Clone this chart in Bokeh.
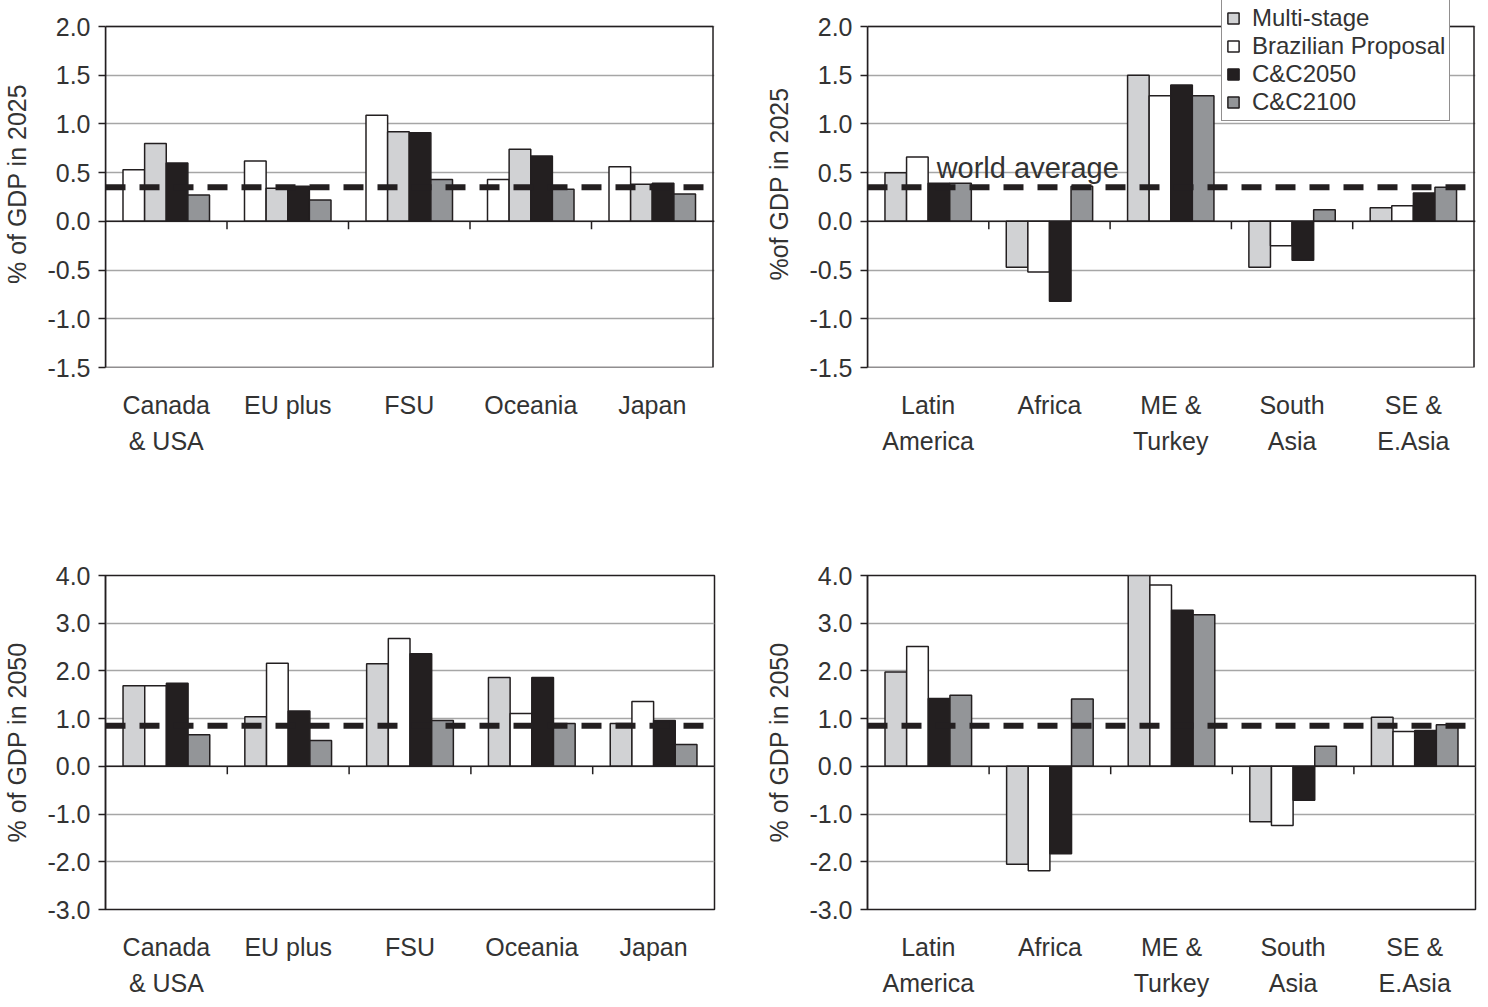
import numpy as np
from bokeh.plotting import figure
from bokeh.models import (Range1d, FixedTicker, PrintfTickFormatter, Span, Label,
                          Legend, LegendItem, BoxAnnotation)
from bokeh.layouts import column, row
from bokeh.embed import file_html
from bokeh.resources import INLINE

# ---------------- data ----------------
oecd_regions = ["Canada\n& USA", "EU plus", "FSU", "Oceania", "Japan"]
non_oecd_regions = ["Latin\nAmerica", "Africa", "ME &\nTurkey", "South\nAsia", "SE &\nE.Asia"]

series_names = ["Multi-stage", "Brazilian Proposal", "C&C2050", "C&C2100"]

# % of GDP in 2025
multistage_oecd_2025 = [0.80, 0.34, 0.92, 0.74, 0.38]
brazilian_oecd_2025 = [0.53, 0.62, 1.09, 0.43, 0.56]
cc2050_oecd_2025 = [0.60, 0.36, 0.91, 0.67, 0.39]
cc2100_oecd_2025 = [0.27, 0.22, 0.43, 0.33, 0.28]

multistage_non_2025 = [0.50, -0.47, 1.50, -0.47, 0.14]
brazilian_non_2025 = [0.66, -0.52, 1.29, -0.25, 0.16]
cc2050_non_2025 = [0.39, -0.82, 1.40, -0.40, 0.29]
cc2100_non_2025 = [0.39, 0.36, 1.29, 0.12, 0.35]

# % of GDP in 2050
multistage_oecd_2050 = [1.69, 1.04, 2.15, 1.86, 0.90]
brazilian_oecd_2050 = [1.69, 2.16, 2.68, 1.11, 1.36]
cc2050_oecd_2050 = [1.74, 1.16, 2.36, 1.86, 0.96]
cc2100_oecd_2050 = [0.66, 0.54, 0.96, 0.90, 0.46]

multistage_non_2050 = [1.98, -2.05, 4.03, -1.16, 1.03]
brazilian_non_2050 = [2.51, -2.19, 3.80, -1.24, 0.73]
cc2050_non_2050 = [1.42, -1.83, 3.27, -0.71, 0.75]
cc2100_non_2050 = [1.49, 1.41, 3.18, 0.42, 0.87]

world_average_2025 = 0.35
world_average_2050 = 0.85

yticks_2025 = [-1.5, -1.0, -0.5, 0.0, 0.5, 1.0, 1.5, 2.0]
yticks_2050 = [-3.0, -2.0, -1.0, 0.0, 1.0, 2.0, 3.0, 4.0]

# ---------------- styles ----------------
LIGHT = "#d1d2d4"
WHITE = "#ffffff"
BLACK = "#231f20"
DARK = "#939598"
TXT = "#333333"
FONT = "Liberation Sans"
FS = "25px"
BAR_W = 0.178
FRAME_H = 341
FRAME_W = 611


def make_panel(cats, series, colors, yticks, avg, ylabel,
               width, height, b_left, b_right, b_top, b_bottom, extra_top=0):
    n = len(cats)
    span = yticks[-1] - yticks[0]
    px_per_unit = FRAME_H / span
    y_end = yticks[-1] + extra_top / px_per_unit
    x_end = n + (1.5 * n / FRAME_W if extra_top else 0)
    p = figure(width=width, height=height, output_backend="svg",
               toolbar_location=None, tools="",
               x_range=Range1d(0, x_end), y_range=Range1d(yticks[0], y_end),
               min_border_left=b_left, min_border_right=b_right,
               min_border_top=b_top - extra_top, min_border_bottom=b_bottom)
    p.background_fill_color = "white"
    p.border_fill_color = "white"
    p.outline_line_color = None

    centers = np.arange(n) + 0.5
    k = len(series)
    renderers = []
    for j, (vals, col) in enumerate(zip(series, colors)):
        off = (j - (k - 1) / 2) * BAR_W
        r = p.vbar(x=centers + off, top=vals, bottom=0, width=BAR_W,
                   fill_color=col, line_color=BLACK, line_width=1.5)
        renderers.append(r)

    if extra_top:
        p.add_layout(BoxAnnotation(left=0, right=n, bottom=yticks[0], top=yticks[-1],
                                   fill_alpha=0, fill_color=None,
                                   line_color=BLACK, line_alpha=1.0, line_width=1.5,
                                   level="annotation"))
    else:
        p.outline_line_color = BLACK
        p.outline_line_width = 1.5

    # grid
    p.xgrid.visible = False
    p.ygrid.grid_line_color = "#a6a6a6"
    p.ygrid.grid_line_width = 1.5
    p.ygrid.ticker = FixedTicker(ticks=yticks)

    # y axis
    ya = p.yaxis[0]
    ya.ticker = FixedTicker(ticks=yticks)
    ya.bounds = (yticks[0], yticks[-1])
    ya.formatter = PrintfTickFormatter(format="%.1f")
    ya.axis_line_color = BLACK
    ya.axis_line_width = 1.5
    ya.major_tick_line_color = BLACK
    ya.major_tick_line_width = 1.5
    ya.major_tick_out = 7
    ya.major_tick_in = 0
    ya.minor_tick_line_color = None
    ya.major_label_text_font = FONT
    ya.major_label_text_font_size = FS
    ya.major_label_text_color = TXT
    ya.major_label_standoff = 8
    ya.axis_label = ylabel
    ya.axis_label_text_font = FONT
    ya.axis_label_text_font_size = FS
    ya.axis_label_text_font_style = "normal"
    ya.axis_label_text_color = TXT
    ya.axis_label_standoff = 13

    # x axis with category labels
    xa = p.xaxis[0]
    xa.ticker = FixedTicker(ticks=list(centers))
    xa.major_label_overrides = {float(c): lab for c, lab in zip(centers, cats)}
    xa.axis_line_color = None
    xa.major_tick_line_color = None
    xa.minor_tick_line_color = None
    xa.major_label_text_font = FONT
    xa.major_label_text_font_size = FS
    xa.major_label_text_color = TXT
    xa.major_label_standoff = 17
    xa.major_label_text_line_height = 1.3

    # zero line with category-boundary ticks
    p.add_layout(Span(location=0, dimension="width", line_color=BLACK, line_width=1.5))
    tick_len = 8 / px_per_unit
    bounds = np.arange(1, n)
    p.segment(x0=bounds, y0=0, x1=bounds, y1=-tick_len, line_color=BLACK, line_width=1.5)

    # world average
    p.add_layout(Span(location=avg, dimension="width", line_color=BLACK,
                      line_width=6, line_dash="20 14"))
    return p, renderers


W_L, W_R = 762, 717
H_T, H_B = 559, 440

p1, _ = make_panel(oecd_regions,
                   [brazilian_oecd_2025, multistage_oecd_2025, cc2050_oecd_2025, cc2100_oecd_2025],
                   [WHITE, LIGHT, BLACK, DARK], yticks_2025, world_average_2025,
                   "% of GDP in 2025", W_L, H_T, 103, 48, 26, 192, extra_top=26)
p2, rr = make_panel(non_oecd_regions,
                    [multistage_non_2025, brazilian_non_2025, cc2050_non_2025, cc2100_non_2025],
                    [LIGHT, WHITE, BLACK, DARK], yticks_2025, world_average_2025,
                    "%of GDP in 2025", W_R, H_T, 103, 4, 26, 192, extra_top=26)
p3, _ = make_panel(oecd_regions,
                   [multistage_oecd_2050, brazilian_oecd_2050, cc2050_oecd_2050, cc2100_oecd_2050],
                   [LIGHT, WHITE, BLACK, DARK], yticks_2050, world_average_2050,
                   "% of GDP in 2050", W_L, H_B, 103, 48, 16, 83)
p4, _ = make_panel(non_oecd_regions,
                   [multistage_non_2050, brazilian_non_2050, cc2050_non_2050, cc2100_non_2050],
                   [LIGHT, WHITE, BLACK, DARK], yticks_2050, world_average_2050,
                   "% of GDP in 2050", W_R, H_B, 103, 4, 16, 83)

# world average label
p2.add_layout(Label(x=0.57, y=world_average_2025 + 0.2, text="world average",
                    text_font=FONT, text_font_size="29px", text_color=TXT,
                    text_baseline="alphabetic"))

# legend (top-right panel, overlapping the frame top)
legend = Legend(items=[LegendItem(label=nm, renderers=[r]) for nm, r in zip(series_names, rr)],
                location=(354, 246), orientation="vertical",
                label_text_font=FONT, label_text_font_size="24px", label_text_color=TXT,
                glyph_width=14, glyph_height=14, label_standoff=12,
                padding=4, spacing=0, margin=0, label_height=24,
                border_line_color=BLACK, border_line_width=1.5,
                background_fill_color="white", background_fill_alpha=1.0)
p2.add_layout(legend, "center")

layout = column(row(p1, p2), row(p3, p4))
open("out.html", "w").write(file_html(layout, INLINE))
